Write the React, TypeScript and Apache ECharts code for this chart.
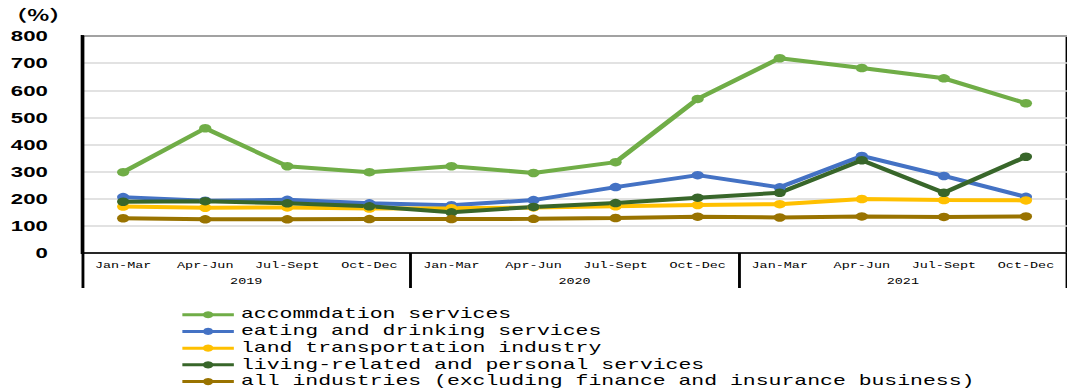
import React, { useEffect, useRef } from "react";
import * as echarts from "echarts";

const categories = [
  "Jan-Mar", "Apr-Jun", "Jul-Sept", "Oct-Dec",
  "Jan-Mar", "Apr-Jun", "Jul-Sept", "Oct-Dec",
  "Jan-Mar", "Apr-Jun", "Jul-Sept", "Oct-Dec",
];
const years = ["2019", "2020", "2021"];

const accommodation = [298, 460, 320, 298, 320, 295, 335, 568, 718, 682, 644, 552];
const eating = [206, 193, 196, 183, 176, 195, 243, 287, 242, 358, 284, 207];
const landTransport = [171, 167, 168, 164, 165, 168, 172, 177, 180, 199, 195, 194];
const livingRelated = [189, 191, 183, 172, 150, 170, 184, 204, 222, 342, 222, 355];
const allIndustries = [128, 124, 124, 125, 125, 126, 129, 134, 131, 135, 133, 135];

const seriesNames = [
  "accommdation services",
  "eating and drinking services",
  "land transportation industry",
  "living-related and personal services",
  "all industries (excluding finance and insurance business)",
];
const seriesData = [accommodation, eating, landTransport, livingRelated, allIndustries];
const colors = ["#70ad47", "#4472c4", "#ffc000", "#38662a", "#997300"];

const BASE_W = 746;
const SCALE_X = 1067 / BASE_W;

export default function App() {
  const ref = useRef<HTMLDivElement>(null);
  useEffect(() => {
    document.body.style.overflow = "hidden";
    const chart = echarts.init(ref.current!, null, { renderer: "svg" });
    chart.setOption({
      animation: false,
      grid: {
        left: 57,
        right: -2,
        top: 36,
        bottom: 138,
        show: true,
        borderColor: "#000",
        borderWidth: 2,
      },
      legend: {
        orient: "vertical",
        left: 126,
        top: 307,
        itemWidth: 36,
        itemHeight: 9,
        itemGap: 1.2,
        padding: 0,
        data: seriesNames,
        lineStyle: { width: 3 },
        textStyle: {
          fontFamily: "Liberation Mono",
          fontSize: 15,
          lineHeight: 15.5,
          color: "#000",
        },
      },
      xAxis: [
        {
          type: "category",
          data: categories,
          boundaryGap: true,
          axisLine: { show: true, lineStyle: { color: "#000", width: 1.5 } },
          axisTick: { show: false },
          axisLabel: {
            interval: 0,
            margin: 8,
            fontFamily: "Liberation Mono",
            fontSize: 9.4,
            color: "#000",
          },
        },
        {
          type: "category",
          data: years,
          position: "bottom",
          boundaryGap: true,
          axisLine: { show: false },
          axisTick: { show: true, length: 35, lineStyle: { color: "#000", width: 2 } },
          axisLabel: {
            margin: 24,
            fontFamily: "Liberation Mono",
            fontSize: 9.4,
            color: "#000",
          },
        },
      ],
      yAxis: {
        type: "value",
        min: 0,
        max: 800,
        interval: 100,
        name: "（%）",
        nameLocation: "end",
        nameGap: 14,
        nameTextStyle: {
          align: "right",
          padding: [0, 7, 0, 0],
          fontFamily: "Noto Sans CJK JP",
          fontSize: 16,
          fontWeight: "bold",
          color: "#000",
        },
        axisLine: { show: true, lineStyle: { color: "#000", width: 2 } },
        axisTick: { show: false },
        splitLine: { lineStyle: { color: "#d9d9d9", width: 1.5 } },
        axisLabel: {
          margin: 24,
          fontFamily: "Liberation Sans",
          fontSize: 15.5,
          fontWeight: "bold",
          color: "#000",
        },
      },
      series: seriesNames.map((name, i) => ({
        name,
        type: "line",
        data: seriesData[i],
        xAxisIndex: 0,
        symbol: "circle",
        symbolSize: 8.5,
        lineStyle: { color: colors[i], width: 4 },
        itemStyle: { color: colors[i] },
      })),
    });
    return () => chart.dispose();
  }, []);
  return (
    <div
      ref={ref}
      style={{
        position: "absolute",
        left: 0,
        top: 0,
        width: BASE_W,
        height: 391,
        transform: `scaleX(${SCALE_X})`,
        transformOrigin: "0 0",
      }}
    />
  );
}
